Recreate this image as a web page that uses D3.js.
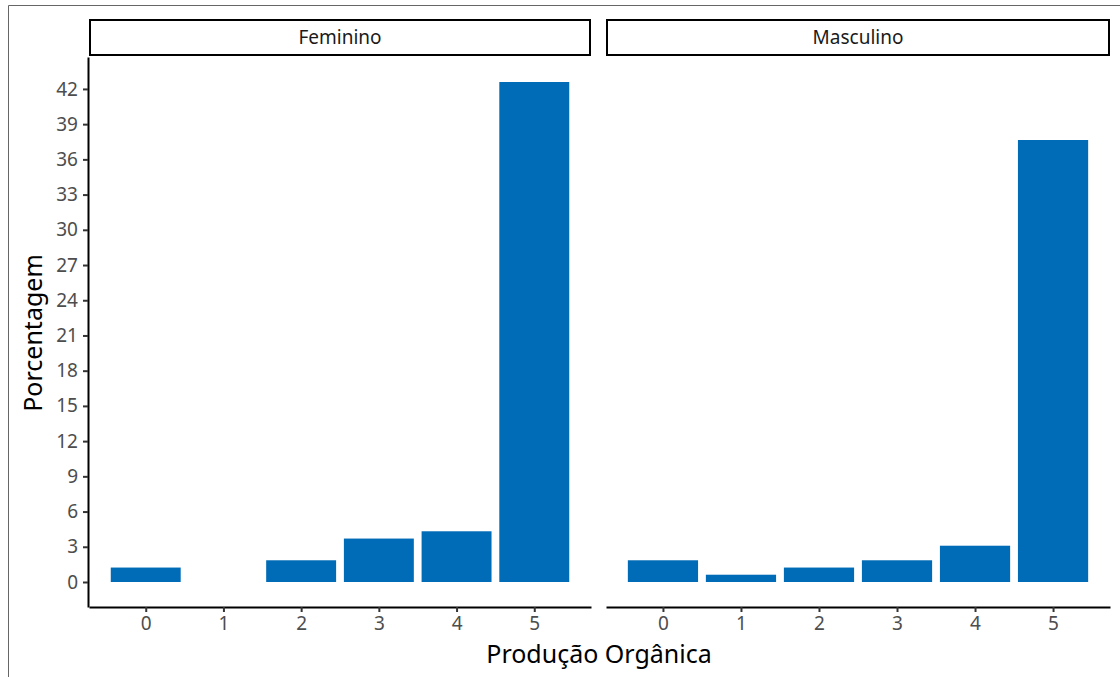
<!DOCTYPE html>
<html>
<head>
<meta charset="utf-8">
<script src="https://cdn.jsdelivr.net/npm/d3@7"></script>
<style>
  body { margin: 0; background: #fff; }
  svg { font-family: "Noto Sans", "Open Sans", sans-serif; }
</style>
</head>
<body>
<script>
'use strict';

// data
var categories = [0, 1, 2, 3, 4, 5];
var panels = ["Feminino", "Masculino"];
var feminino = [1.23, 0, 1.85, 3.70, 4.32, 42.59];
var masculino = [1.85, 0.62, 1.23, 1.85, 3.09, 37.65];
var yTicks = [0, 3, 6, 9, 12, 15, 18, 21, 24, 27, 30, 33, 36, 39, 42];

var width = 1120, height = 677;
var panelTop = 57, panelBottom = 607;
var panelX = [[89, 591], [606, 1110]];
var seriesList = [feminino, masculino];

var svg = d3.select("body").append("svg")
   .attr("width", width)
   .attr("height", height);

// outer frame
svg.append("path")
   .attr("d", "M8.5," + height + "V5.5H" + width)
   .attr("fill", "none")
   .attr("stroke", "#666")
   .attr("stroke-width", 1);

var y = d3.scaleLinear()
   .domain([-2.13, 44.72])
   .range([panelBottom, panelTop]);

panels.forEach(function(name, i){
   var x0 = panelX[i][0], x1 = panelX[i][1];
   var x = d3.scaleLinear()
      .domain([-0.73, 5.73])
      .range([x0, x1]);
   var g = svg.append("g");

   // strip
   g.append("rect")
      .attr("x", x0 + 1)
      .attr("y", 20)
      .attr("width", x1 - x0 - 2)
      .attr("height", 35)
      .attr("fill", "#fff")
      .attr("stroke", "#000")
      .attr("stroke-width", 2);
   g.append("text")
      .attr("x", (x0 + x1) / 2)
      .attr("y", 44)
      .attr("text-anchor", "middle")
      .style("font-size", "19px")
      .attr("fill", "#1a1a1a")
      .text(name);

   // bars
   g.selectAll("rect.bar")
      .data(seriesList[i])
      .enter()
      .append("rect")
      .attr("class", "bar")
      .attr("x", function(d, j){ return x(categories[j] - 0.45); })
      .attr("width", x(0.9) - x(0))
      .attr("y", function(d){ return y(d); })
      .attr("height", function(d){ return y(0) - y(d); })
      .attr("fill", "#006BB6");

   // x axis
   var xAxis = g.append("g")
      .attr("transform", "translate(0," + panelBottom + ")")
      .call(d3.axisBottom(x).tickValues(categories).tickFormat(d3.format("d"))
         .tickSize(5).tickSizeOuter(0).tickPadding(5));
   xAxis.select(".domain").attr("stroke", "#000").attr("stroke-width", 2);
   xAxis.selectAll(".tick line").attr("stroke", "#333").attr("stroke-width", 2);
   xAxis.selectAll(".tick text")
      .attr("font-size", 19)
      .attr("font-family", "Noto Sans, sans-serif")
      .attr("fill", "#4d4d4d");

   // y axis only in first panel
   if (i === 0) {
      var yAxis = g.append("g")
         .attr("transform", "translate(" + (x0 - 1) + ",0)")
         .call(d3.axisLeft(y).tickValues(yTicks).tickFormat(d3.format("d"))
            .tickSize(5).tickSizeOuter(0).tickPadding(5));
      yAxis.select(".domain").attr("stroke", "#000").attr("stroke-width", 2);
      yAxis.selectAll(".tick line").attr("stroke", "#333").attr("stroke-width", 2);
      yAxis.selectAll(".tick text")
         .attr("font-size", 19)
         .attr("font-family", "Noto Sans, sans-serif")
         .attr("fill", "#4d4d4d");
   }
});

// axis titles
svg.append("text")
   .attr("x", 599)
   .attr("y", 663)
   .attr("text-anchor", "middle")
   .style("font-size", "25px")
   .attr("fill", "#000")
   .text("Produção Orgânica");

svg.append("text")
   .attr("transform", "translate(42,333) rotate(-90)")
   .attr("text-anchor", "middle")
   .style("font-size", "25px")
   .attr("fill", "#000")
   .text("Porcentagem");
</script>
</body>
</html>
